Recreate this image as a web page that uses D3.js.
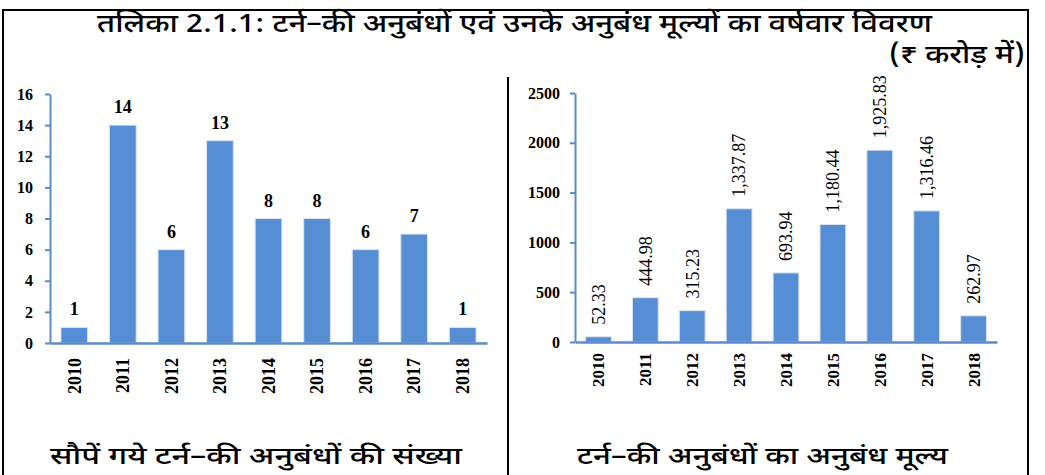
<!DOCTYPE html>
<html>
<head>
<meta charset="utf-8">
<script src="https://cdn.jsdelivr.net/npm/d3@7"></script>
<style>
  html, body { margin: 0; padding: 0; background: #fff; }
  svg { display: block; }
</style>
</head>
<body>
<svg id="chart" width="1045" height="475"></svg>
<script>
const years = ["2010","2011","2012","2013","2014","2015","2016","2017","2018"];
const contractCounts = [1, 14, 6, 13, 8, 8, 6, 7, 1];
const contractValues = [52.33, 444.98, 315.23, 1337.87, 693.94, 1180.44, 1925.83, 1316.46, 262.97];
const countTicks = [0, 2, 4, 6, 8, 10, 12, 14, 16];
const valueTicks = [0, 500, 1000, 1500, 2000, 2500];
const titleText = "तलिका 2.1.1: टर्न–की अनुबंधों एवं उनके अनुबंध मूल्यों का वर्षवार विवरण";
const unitText = "(₹ करोड़  में)";
const leftCaption = "सौपें गये टर्न–की अनुबंधों की संख्या";
const rightCaption = "टर्न–की अनुबंधों का अनुबंध मूल्य";

const barColor = "#558ed5";
const axisColor = "#5b8bc9";
const serif = "'Liberation Serif', 'Times New Roman', serif";
const deva = "'Noto Sans Devanagari', 'Lohit Devanagari', 'FreeSans', 'Noto Sans', sans-serif";

const svg = d3.select("#chart");

// frame
svg.append("path")
  .attr("d", "M3,480 L3,10 L1028,10 L1028,480")
  .attr("fill", "none").attr("stroke", "#000").attr("stroke-width", 2);
svg.append("line")
  .attr("x1", 508).attr("x2", 508).attr("y1", 77).attr("y2", 480)
  .attr("stroke", "#000").attr("stroke-width", 2);

function devaText(str, x, y, size, len) {
  svg.append("text").attr("x", x).attr("y", y)
    .attr("font-family", deva).attr("font-size", size).attr("font-weight", 500)
    .attr("fill", "#000")
    .attr("textLength", len).attr("lengthAdjust", "spacingAndGlyphs")
    .text(str);
}
devaText(titleText, 97, 32, 26, 835);
devaText(unitText, 889, 63, 26, 136);
devaText(leftCaption, 50, 464, 24, 412);
devaText(rightCaption, 577, 464, 24, 371);

function drawChart(opts) {
  const g = svg.append("g");
  const x = d3.scaleBand().domain(years).range([opts.x0, opts.x1]).paddingInner(0.45).paddingOuter(0.225);
  const y = d3.scaleLinear().domain([0, opts.max]).range([opts.y0, opts.y1]);

  // bars
  g.selectAll("rect.bar").data(opts.values).enter().append("rect")
    .attr("class", "bar")
    .attr("x", (d, i) => x(years[i]))
    .attr("width", x.bandwidth())
    .attr("y", d => y(d))
    .attr("height", d => y(0) - y(d))
    .attr("fill", barColor)
    .attr("stroke", "#dfe3ea").attr("stroke-width", 1);

  // y axis
  const ya = g.append("g").attr("transform", `translate(${opts.x0},0)`)
    .call(d3.axisLeft(y).tickValues(opts.ticks).tickSize(5).tickSizeOuter(0).tickPadding(opts.tickPad).tickFormat(d3.format("d")));
  ya.select(".domain").attr("stroke", axisColor).attr("stroke-width", 2);
  ya.selectAll(".tick line").attr("stroke", axisColor).attr("stroke-width", 2);
  ya.selectAll(".tick text").attr("font-family", serif).attr("font-size", 16)
    .attr("font-weight", "bold").attr("fill", "#000");

  // x axis
  const xa = g.append("g").attr("transform", `translate(0,${opts.y0})`)
    .call(d3.axisBottom(x).tickSize(0).tickSizeOuter(0).tickPadding(0));
  xa.select(".domain").attr("stroke", axisColor).attr("stroke-width", 2.5);
  xa.selectAll(".tick text")
    .attr("font-family", serif).attr("font-size", opts.xFont).attr("font-weight", "bold").attr("fill", "#000")
    .attr("text-anchor", "end")
    .attr("transform", `translate(0,${opts.xOff}) rotate(-90)`)
    .attr("x", 0).attr("y", 0).attr("dy", "0.35em");

  // value labels
  if (opts.rotateLabels) {
    g.selectAll("text.val").data(opts.values).enter().append("text")
      .attr("class", "val")
      .attr("transform", (d, i) => `translate(${x(years[i]) + x.bandwidth() / 2},${y(d) - 12}) rotate(-90)`)
      .attr("dy", "0.35em")
      .attr("text-anchor", "start")
      .attr("font-family", serif).attr("font-size", 18).attr("fill", "#000")
      .text(d => d3.format(",.2f")(d));
  } else {
    g.selectAll("text.val").data(opts.values).enter().append("text")
      .attr("class", "val")
      .attr("x", (d, i) => x(years[i]) + x.bandwidth() / 2)
      .attr("y", d => y(d) - 12)
      .attr("text-anchor", "middle")
      .attr("font-family", serif).attr("font-size", 18).attr("font-weight", "bold").attr("fill", "#000")
      .text(d => d);
  }
}

drawChart({ values: contractCounts, ticks: countTicks, max: 16, x0: 50, x1: 487, y0: 343, y1: 94, tickPad: 12, xFont: 18, xOff: 15, rotateLabels: false });
drawChart({ values: contractValues, ticks: valueTicks, max: 2500, x0: 575, x1: 997, y0: 342, y1: 93, tickPad: 10, xFont: 17, xOff: 11, rotateLabels: true });
</script>
</body>
</html>
